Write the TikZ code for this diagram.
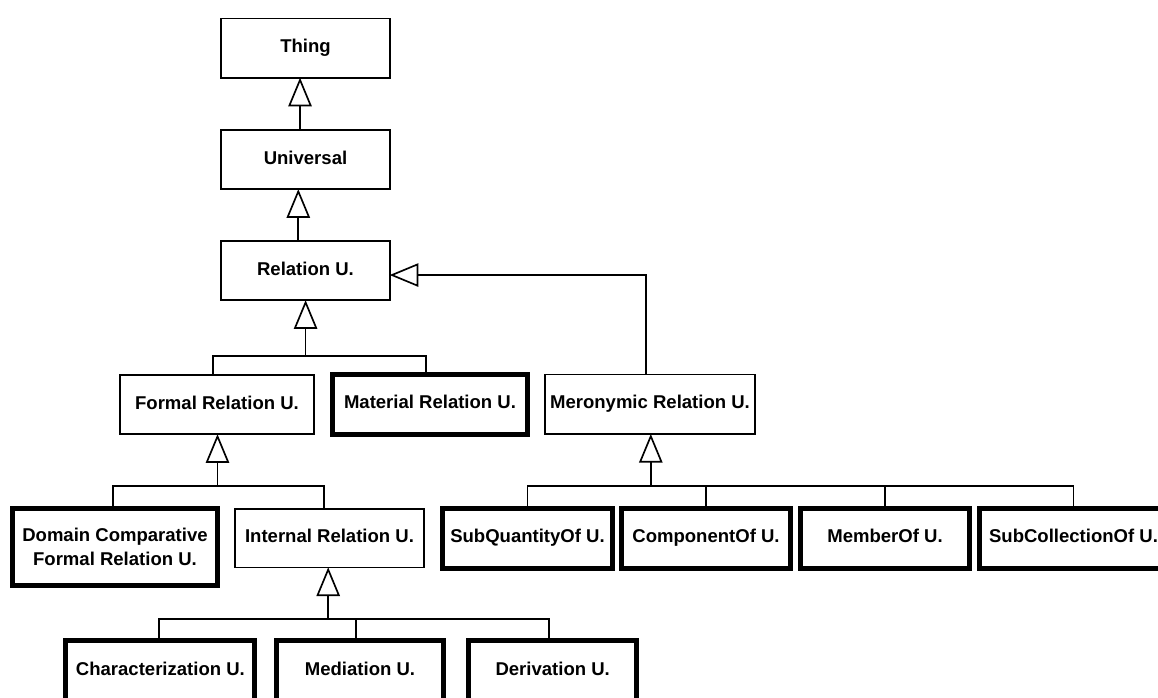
\documentclass[tikz,border=0pt]{standalone}
\usepackage{fontspec}
\setmainfont{Liberation Sans}
\usetikzlibrary{arrows.meta}
\begin{document}
\begin{tikzpicture}[x=0.75pt,y=-0.75pt,
  every node/.style={font=\fontsize{13.9pt}{18pt}\selectfont\bfseries, inner sep=0pt, outer sep=0pt, align=center},
  oneline/.style={text height=10pt, text depth=3pt},
  cls/.style={draw, fill=white, line width=1.25pt, minimum height=44.5pt},
  leaf/.style={draw, fill=white, line width=3.75pt, minimum height=45pt},
  link/.style={line width=1.25pt},
  gen/.style={line width=1.25pt, -{Triangle[open, length=21.5pt, width=17.5pt]}}]
\useasboundingbox (0,0) rectangle (1158,697);
\clip (0,0) rectangle (1158,697);

% class boxes
\node[cls, oneline, minimum width=126.3pt] (thing) at (305.5,48) {Thing};
\node[cls, oneline, minimum width=126.3pt] (universal) at (305.5,159.5) {Universal};
\node[cls, oneline, minimum width=126.3pt] (relation) at (305.5,270.5) {Relation U.};
\node[cls, oneline, minimum width=145.8pt] (formal) at (217,404.5) {Formal Relation U.};
\node[leaf, oneline, minimum width=146.25pt] (material) at (430,404.2) {Material Relation U.};
\node[cls, oneline, minimum width=157.8pt] (mero) at (650,404.3) {Meronymic Relation U.};
\node[leaf, minimum width=153.75pt, minimum height=57.75pt] (domain) at (115,547) {Domain Comparative\\Formal Relation U.};
\node[cls, oneline, minimum width=142pt, minimum height=44pt] (internal) at (329.5,538) {Internal Relation U.};
\node[leaf, oneline, minimum width=127.5pt] (subq) at (527.5,538.3) {SubQuantityOf U.};
\node[leaf, oneline, minimum width=126.75pt] (comp) at (706,538.3) {ComponentOf U.};
\node[leaf, oneline, minimum width=127.1pt] (member) at (885,538.3) {MemberOf U.};
\node[leaf, oneline, minimum width=141pt] (subcol) at (1073.5,538.3) {SubCollectionOf U.};
\node[leaf, oneline, minimum width=141.75pt] (charz) at (160.4,670.5) {Characterization U.};
\node[leaf, oneline, minimum width=125.25pt] (mediation) at (360,670.5) {Mediation U.};
\node[leaf, oneline, minimum width=126pt] (deriv) at (552.7,670.5) {Derivation U.};

% upper chain
\draw[gen] ([xshift=-4.1pt]universal.north) -- ([xshift=-4.1pt]thing.south);
\draw[gen] ([xshift=-5.4pt]relation.north) -- ([xshift=-5.4pt]universal.south);
\draw[gen] ([xshift=-2.8pt]mero.north) |- ([yshift=-3.4pt]relation.east);

% children of Relation U.
\coordinate (rb) at (305.6,355.7);
\draw[gen] (rb) -- (rb |- relation.south);
\draw[link] ([xshift=-2.8pt]formal.north) |- (rb) -| ([xshift=-3pt]material.north);

% children of Formal Relation U.
\coordinate (fb) at (217.5,485.7);
\draw[gen] (fb) -- (fb |- formal.south);
\draw[link] ([xshift=-1.3pt]domain.north) |- (fb) -| ([xshift=-3.9pt]internal.north);

% children of Internal Relation U.
\coordinate (ib) at (328.2,619.3);
\coordinate (medtop) at ([xshift=-3pt]mediation.north);
\draw[gen] (ib) -- (ib |- internal.south);
\draw[link] ([xshift=-1pt]charz.north) |- (ib) -| ([xshift=-3pt]deriv.north);
\draw[link] (medtop) -- (medtop |- ib);

% children of Meronymic Relation U.
\coordinate (mb) at (650.8,486);
\draw[gen] (mb) -- (mb |- mero.south);
\draw[link] (subq.north) |- (mb) -| (subcol.north);
\draw[link] (comp.north) -- (comp.north |- mb);
\draw[link] (member.north) -- (member.north |- mb);
\end{tikzpicture}
\end{document}
